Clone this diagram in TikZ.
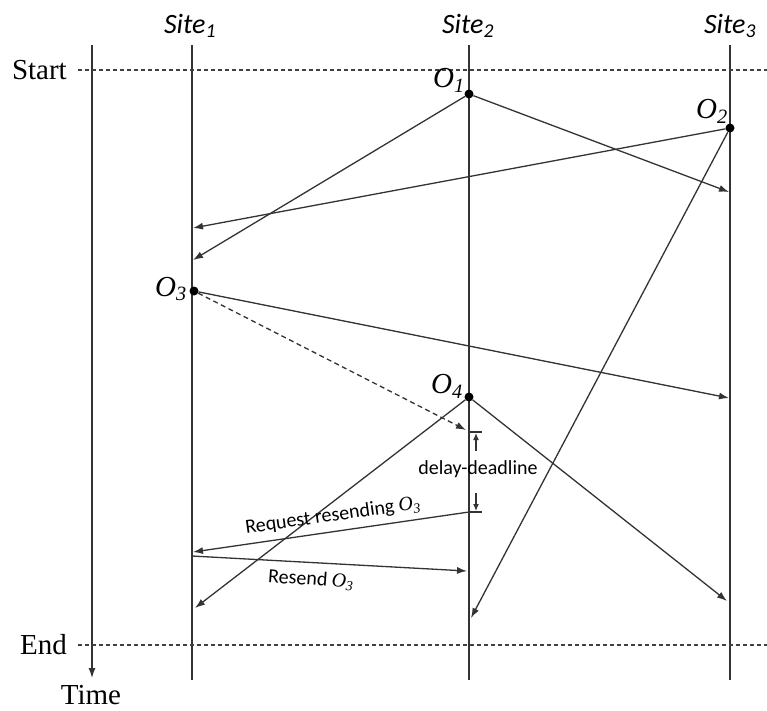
\documentclass[tikz,border=0pt]{standalone}
\usepackage{fontspec}
\setmainfont{Liberation Serif}
\newfontfamily\calib{Carlito}
\usetikzlibrary{arrows.meta}
\begin{document}
\begin{tikzpicture}[x=1pt,y=-1pt,
  ln/.style={draw=black!80, line width=1.3pt},
  msg/.style={ln, -{Latex[length=10pt,width=7pt]}},
  dmsg/.style={msg, dash pattern=on 5pt off 3.5pt},
  dimarr/.style={ln, -{Latex[length=7pt,width=6pt]}},
  dot/.style={circle, fill=black, inner sep=0pt, minimum size=9pt},
  olab/.style={font=\fontsize{29}{29}\selectfont\itshape, inner sep=0pt},
  sitelab/.style={font=\calib\fontsize{28}{28}\selectfont\itshape, inner sep=0pt},
  serlab/.style={font=\fontsize{29}{29}\selectfont, inner sep=0pt},
  smalllab/.style={font=\calib\fontsize{20}{20}\selectfont, inner sep=0pt},
  bound/.style={draw=black!75, dash pattern=on 4pt off 3pt, line width=1.1pt}
]
\useasboundingbox (0,0) rectangle (767,710);
% vertical lines
\coordinate (T0) at (92,45);  \coordinate (T1) at (92,678);
\coordinate (A0) at (192,45); \coordinate (A1) at (192,680);
\coordinate (B0) at (469,45); \coordinate (B1) at (469,680);
\coordinate (C0) at (730,45); \coordinate (C1) at (730,680);
\draw[msg] (T0) -- (T1);
\draw[ln] (A0) -- (A1);
\draw[ln] (B0) -- (B1);
\draw[ln] (C0) -- (C1);
% start / end
\coordinate (S0) at (78,70);  \coordinate (S1) at (767,70);
\coordinate (E0) at (78,645); \coordinate (E1) at (767,645);
\draw[bound] (S0) -- (S1);
\draw[bound] (E0) -- (E1);
\node[serlab, anchor=east] (start) at (67,70) {Start};
\node[serlab, anchor=east] (end) at (67,645) {End};
\node[serlab] (time) at (91,695) {Time};
% site labels
\node[sitelab] (s1) at (190,26) {Site\textsubscript{1}};
\node[sitelab] (s2) at (468,26) {Site\textsubscript{2}};
\node[sitelab] (s3) at (730,26) {Site\textsubscript{3}};
% events
\node[dot] (O1) at (469,94) {};
\node[dot] (O2) at (730,128) {};
\node[dot] (O3) at (194,291) {};
\node[dot] (O4) at (469,397) {};
\node[olab] (O1l) at (449,80) {O\textsubscript{1}};
\node[olab] (O2l) at (712,111) {O\textsubscript{2}};
\node[olab] (O3l) at (171,289) {O\textsubscript{3}};
\node[olab] (O4l) at (447,386) {O\textsubscript{4}};
% arrival points
\coordinate (a11) at (193,260);
\coordinate (a13) at (729,192);
\coordinate (a21) at (193,228);
\coordinate (a22) at (471,618);
\coordinate (a33) at (729,398);
\coordinate (a32) at (466,430);
\coordinate (a41) at (195,608);
\coordinate (a43) at (727,601);
\coordinate (rq0) at (469,512);
\coordinate (rq1) at (193,552);
\coordinate (rs0) at (192,556);
\coordinate (rs1) at (467,571);
\draw[msg] (O1) -- (a11);
\draw[msg] (O1) -- (a13);
\draw[msg] (O2) -- (a21);
\draw[msg] (O2) -- (a22);
\draw[msg] (O3) -- (a33);
\draw[dmsg] (O3) -- (a32);
\draw[msg] (O4) -- (a41);
\draw[msg] (O4) -- (a43);
\draw[msg] (rq0) -- (rq1);
\draw[msg] (rs0) -- (rs1);
% delay-deadline dimension
\coordinate (k0a) at (470,432); \coordinate (k0b) at (482,432);
\coordinate (k1a) at (470,512); \coordinate (k1b) at (482,512);
\draw[ln] (k0a) -- (k0b);
\draw[ln] (k1a) -- (k1b);
\coordinate (d0s) at (476,451); \coordinate (d0e) at (476,433);
\coordinate (d1s) at (476,493); \coordinate (d1e) at (476,511);
\draw[dimarr] (d0s) -- (d0e);
\draw[dimarr] (d1s) -- (d1e);
\node[smalllab] (dl) at (478,469) {delay-deadline};
% message labels
\node[smalllab, rotate=8] (rql) at (333,516) {Request resending {\rmfamily\itshape O\textsubscript{3}}};
\node[smalllab, rotate=-4] (rsl) at (311,580) {Resend {\rmfamily\itshape O\textsubscript{3}}};
\end{tikzpicture}
\end{document}
